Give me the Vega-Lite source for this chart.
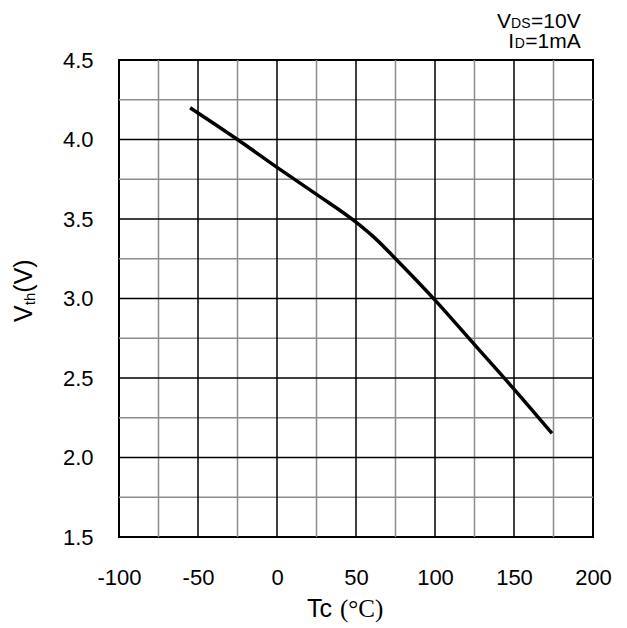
{
  "$schema": "https://vega.github.io/schema/vega-lite/v6.json",
  "width": 474,
  "height": 477,
  "autosize": {"type": "none"},
  "padding": {"left": 119, "top": 60, "right": 34, "bottom": 91},
  "background": "white",
  "config": {
    "view": {"stroke": "black", "strokeWidth": 2},
    "font": "Liberation Sans",
    "axis": {"ticks": false, "tickSize": 0, "domain": false, "grid": false, "labelFont": "Liberation Sans", "labelFontSize": 22, "labelColor": "black", "labelFlush": false, "labelOverlap": false}
  },
  "datasets": {
    "curve": [
      {"Tc": -55, "Vth": 4.2},
      {"Tc": -25, "Vth": 4.0},
      {"Tc": 0, "Vth": 3.825},
      {"Tc": 25, "Vth": 3.655},
      {"Tc": 50, "Vth": 3.48},
      {"Tc": 62.5, "Vth": 3.375},
      {"Tc": 75, "Vth": 3.25},
      {"Tc": 100, "Vth": 2.99},
      {"Tc": 125, "Vth": 2.71},
      {"Tc": 150, "Vth": 2.43},
      {"Tc": 174, "Vth": 2.152}
    ],
    "xminor": [{"Tc": -75}, {"Tc": -25}, {"Tc": 25}, {"Tc": 75}, {"Tc": 125}, {"Tc": 175}],
    "xmajor": [{"Tc": -50}, {"Tc": 0}, {"Tc": 50}, {"Tc": 100}, {"Tc": 150}],
    "yminor": [{"Vth": 1.75}, {"Vth": 2.25}, {"Vth": 2.75}, {"Vth": 3.25}, {"Vth": 3.75}, {"Vth": 4.25}],
    "ymajor": [{"Vth": 2.0}, {"Vth": 2.5}, {"Vth": 3.0}, {"Vth": 3.5}, {"Vth": 4.0}]
  },
  "layer": [
    {
      "data": {"name": "xminor"},
      "mark": {"type": "rule", "color": "#8c8c8c", "strokeWidth": 1.5},
      "encoding": {
        "x": {
          "field": "Tc", "type": "quantitative", "title": null,
          "scale": {"domain": [-100, 200], "nice": false, "zero": false},
          "axis": {
            "values": [-100, -50, 0, 50, 100, 150, 200],
            "labelExpr": "'' + datum.value",
            "labelPadding": 30
          }
        }
      }
    },
    {
      "data": {"name": "yminor"},
      "mark": {"type": "rule", "color": "#8c8c8c", "strokeWidth": 1.5},
      "encoding": {
        "y": {
          "field": "Vth", "type": "quantitative", "title": null,
          "scale": {"domain": [1.5, 4.5], "nice": false, "zero": false},
          "axis": {
            "values": [1.5, 2, 2.5, 3, 3.5, 4, 4.5],
            "labelExpr": "format(datum.value, '.1f')",
            "labelPadding": 26
          }
        }
      }
    },
    {
      "data": {"name": "xmajor"},
      "mark": {"type": "rule", "color": "black", "strokeWidth": 1.5},
      "encoding": {"x": {"field": "Tc", "type": "quantitative", "title": null}}
    },
    {
      "data": {"name": "ymajor"},
      "mark": {"type": "rule", "color": "black", "strokeWidth": 1.5},
      "encoding": {"y": {"field": "Vth", "type": "quantitative", "title": null}}
    },
    {
      "data": {"name": "curve"},
      "mark": {"type": "line", "color": "black", "strokeWidth": 3.5, "interpolate": "monotone"},
      "encoding": {
        "x": {"field": "Tc", "type": "quantitative", "title": null},
        "y": {"field": "Vth", "type": "quantitative", "title": null}
      }
    },
    {
      "data": {"values": [{"t": "V"}]},
      "mark": {"type": "text", "align": "left", "baseline": "alphabetic", "angle": 270, "fontSize": 25, "font": "Liberation Sans", "color": "black", "dx": -23.4, "dy": -87.3},
      "encoding": {"x": {"datum": -100, "type": "quantitative"}, "y": {"datum": 3, "type": "quantitative"}, "text": {"field": "t"}}
    },
    {
      "data": {"values": [{"t": "th"}]},
      "mark": {"type": "text", "align": "left", "baseline": "alphabetic", "angle": 270, "fontSize": 15, "font": "Liberation Sans", "color": "black", "dx": -6.7, "dy": -84},
      "encoding": {"x": {"datum": -100, "type": "quantitative"}, "y": {"datum": 3, "type": "quantitative"}, "text": {"field": "t"}}
    },
    {
      "data": {"values": [{"t": "(V)"}]},
      "mark": {"type": "text", "align": "left", "baseline": "alphabetic", "angle": 270, "fontSize": 25, "font": "Liberation Sans", "color": "black", "dx": 5.8, "dy": -87.3},
      "encoding": {"x": {"datum": -100, "type": "quantitative"}, "y": {"datum": 3, "type": "quantitative"}, "text": {"field": "t"}}
    },
    {
      "data": {"values": [{"t": "Tc"}]},
      "mark": {"type": "text", "align": "left", "baseline": "alphabetic", "fontSize": 25, "font": "Liberation Sans", "color": "black", "dx": -49, "dy": 80},
      "encoding": {"x": {"datum": 50, "type": "quantitative"}, "y": {"datum": 1.5, "type": "quantitative"}, "text": {"field": "t"}}
    },
    {
      "data": {"values": [{"t": "(°C)"}]},
      "mark": {"type": "text", "align": "left", "baseline": "alphabetic", "fontSize": 25, "font": "Liberation Serif", "color": "black", "dx": -16, "dy": 80},
      "encoding": {"x": {"datum": 50, "type": "quantitative"}, "y": {"datum": 1.5, "type": "quantitative"}, "text": {"field": "t"}}
    },
    {
      "data": {"values": [{"t": "=10V"}]},
      "mark": {"type": "text", "align": "right", "baseline": "alphabetic", "fontSize": 21, "font": "Liberation Sans", "color": "black", "dx": -12.3, "dy": -31.7},
      "encoding": {"x": {"datum": 200, "type": "quantitative"}, "y": {"datum": 4.5, "type": "quantitative"}, "text": {"field": "t"}}
    },
    {
      "data": {"values": [{"t": "DS"}]},
      "mark": {"type": "text", "align": "right", "baseline": "alphabetic", "fontSize": 14, "font": "Liberation Sans", "color": "black", "dx": -62.5, "dy": -31.7},
      "encoding": {"x": {"datum": 200, "type": "quantitative"}, "y": {"datum": 4.5, "type": "quantitative"}, "text": {"field": "t"}}
    },
    {
      "data": {"values": [{"t": "V"}]},
      "mark": {"type": "text", "align": "right", "baseline": "alphabetic", "fontSize": 21, "font": "Liberation Sans", "color": "black", "dx": -82, "dy": -31.7},
      "encoding": {"x": {"datum": 200, "type": "quantitative"}, "y": {"datum": 4.5, "type": "quantitative"}, "text": {"field": "t"}}
    },
    {
      "data": {"values": [{"t": "=1mA"}]},
      "mark": {"type": "text", "align": "right", "baseline": "alphabetic", "fontSize": 21, "font": "Liberation Sans", "color": "black", "dx": -12.3, "dy": -11.7},
      "encoding": {"x": {"datum": 200, "type": "quantitative"}, "y": {"datum": 4.5, "type": "quantitative"}, "text": {"field": "t"}}
    },
    {
      "data": {"values": [{"t": "D"}]},
      "mark": {"type": "text", "align": "right", "baseline": "alphabetic", "fontSize": 14, "font": "Liberation Sans", "color": "black", "dx": -68.2, "dy": -11.7},
      "encoding": {"x": {"datum": 200, "type": "quantitative"}, "y": {"datum": 4.5, "type": "quantitative"}, "text": {"field": "t"}}
    },
    {
      "data": {"values": [{"t": "I"}]},
      "mark": {"type": "text", "align": "right", "baseline": "alphabetic", "fontSize": 21, "font": "Liberation Sans", "color": "black", "dx": -78.8, "dy": -11.7},
      "encoding": {"x": {"datum": 200, "type": "quantitative"}, "y": {"datum": 4.5, "type": "quantitative"}, "text": {"field": "t"}}
    }
  ]
}
